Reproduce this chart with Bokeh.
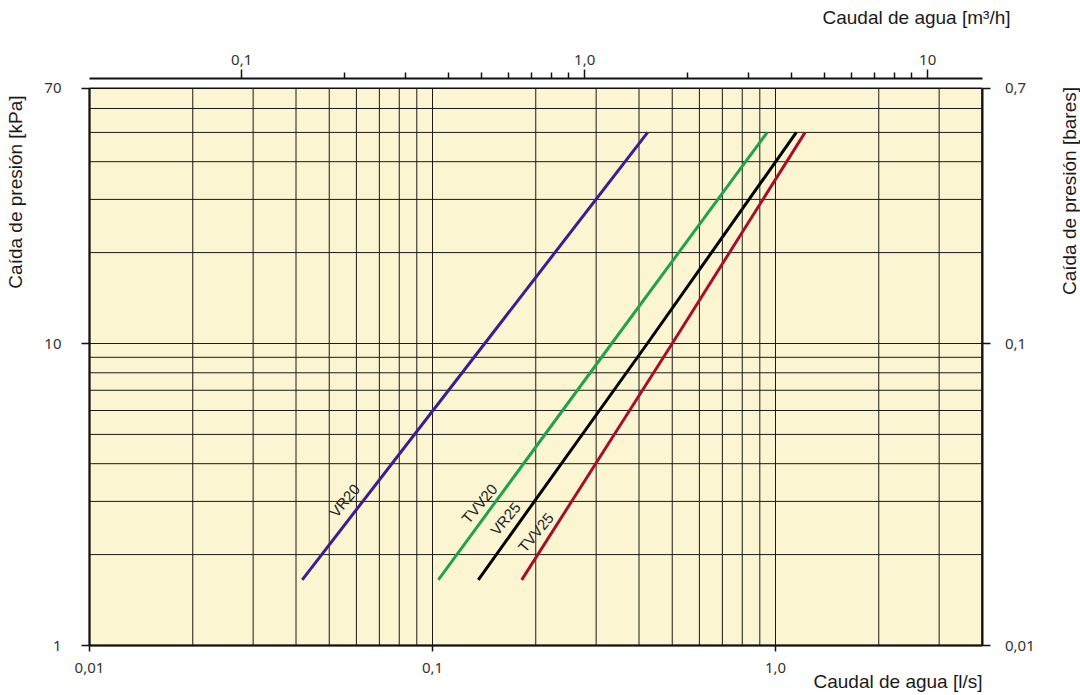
import math
from bokeh.plotting import figure
from bokeh.models import Range1d, LogAxis, LogScale, FixedTicker, Label, ColumnDataSource
from bokeh.core.properties import value
from bokeh.embed import file_html
from bokeh.resources import INLINE

# ---------------- data ----------------
series_names = ["VR20", "TVV20", "VR25", "TVV25"]
series_colors = ["#3b1e8f", "#22a24a", "#000000", "#a6102a"]
pressure_kpa = [1.65, 10, 50]
flow_vr20 = [0.0417, 0.142, 0.424]
flow_tvv20 = [0.104, 0.333, 0.946]
flow_vr25 = [0.136, 0.423, 1.15]
flow_tvv25 = [0.182, 0.500, 1.22]
series_flows = [flow_vr20, flow_tvv20, flow_vr25, flow_tvv25]

label_x = [0.0554, 0.137, 0.163, 0.200]
label_y = [3.02, 2.95, 2.63, 2.37]

x_bounds_ls = (0.01, 4.0)
y_bounds_kpa = (1, 70)

bottom_ticks = [0.01, 0.1, 1]
bottom_labels = ["0,01", "0,1", "1,0"]
top_ticks = [0.1, 1, 10]
top_labels = ["0,1", "1,0", "10"]
top_minor = [0.2, 0.3, 0.4, 0.5, 0.6, 0.7, 0.8, 0.9, 2, 3, 4, 5, 6, 7, 8, 9]
left_ticks = [1, 10, 70]
left_labels = ["1", "10", "70"]
right_ticks = [0.01, 0.1, 0.7]
right_labels = ["0,01", "0,1", "0,7"]

grid_x = [0.02, 0.03, 0.04, 0.05, 0.06, 0.07, 0.08, 0.09, 0.1,
          0.2, 0.3, 0.4, 0.5, 0.6, 0.7, 0.8, 0.9, 1, 2, 3]
grid_y = [2, 3, 4, 5, 6, 7, 8, 9, 10, 20, 30, 40, 50, 60]

LS_TO_M3H = 3.6
KPA_TO_BAR = 0.01

# ---------------- layout geometry (pixels) ----------------
W, H = 1080, 695
X0_PX, X_DEC_PX = 89, 343      # pixel of x=0.01, pixels per decade
Y0_PX, Y_DEC_PX = 645, 302     # pixel of y=1, pixels per decade
TOP_AXIS_PX = 78               # top axis line (separated from chart area)

def px_to_x(px):
    return 10 ** (math.log10(x_bounds_ls[0]) + (px - X0_PX) / X_DEC_PX)

def px_to_y(py):
    return 10 ** ((Y0_PX - py) / Y_DEC_PX)

x_rng = (px_to_x(0), px_to_x(W))
y_rng = (px_to_y(H), px_to_y(0))
top_axis_y = px_to_y(TOP_AXIS_PX)

TICK_FONT = "Noto Sans"
TITLE_FONT = "Liberation Sans"

p = figure(width=W, height=H, x_axis_type="log", y_axis_type="log",
           x_range=Range1d(*x_rng), y_range=Range1d(*y_rng),
           output_backend="svg", toolbar_location=None,
           min_border=0, min_border_left=0, min_border_right=0,
           min_border_top=0, min_border_bottom=0)
p.title.text = ""
p.title.visible = False
p.outline_line_color = None
p.background_fill_color = "white"
p.border_fill_color = "white"
p.xgrid.visible = False
p.ygrid.visible = False

# yellow chart area
p.quad(left=[x_bounds_ls[0]], right=[x_bounds_ls[1]], bottom=[y_bounds_kpa[0]], top=[y_bounds_kpa[1]],
       fill_color="#fbf5d2", line_color="#111111", line_width=1.5)

# grid lines
p.segment(x0=grid_x, y0=[y_bounds_kpa[0]] * len(grid_x), x1=grid_x, y1=[y_bounds_kpa[1]] * len(grid_x),
          line_color="#1a1a1a", line_width=1)
p.segment(x0=[x_bounds_ls[0]] * len(grid_y), y0=grid_y, x1=[x_bounds_ls[1]] * len(grid_y), y1=grid_y,
          line_color="#1a1a1a", line_width=1)

# curves
for name, flows, color in zip(series_names, series_flows, series_colors):
    p.line(x=flows, y=pressure_kpa, line_color=color, line_width=3)

src = ColumnDataSource(dict(x=label_x, y=label_y, t=series_names))
p.text(x="x", y="y", text="t", source=src, angle=50, angle_units="deg",
       text_align="center", text_baseline="middle", text_font=value(TITLE_FONT),
       text_font_size="15px", text_color="#222222")

def style_axis(ax, ticks, labels, standoff, tick_out):
    ax.ticker = FixedTicker(ticks=ticks, minor_ticks=[])
    ax.major_label_overrides = {t: l for t, l in zip(ticks, labels)}
    ax.major_label_text_font = TICK_FONT
    ax.major_label_text_font_size = "15px"
    ax.major_label_text_color = "#333333"
    ax.major_label_standoff = standoff
    ax.major_tick_out = tick_out
    ax.major_tick_in = 0
    ax.minor_tick_out = 0
    ax.minor_tick_in = 0
    ax.axis_line_width = 2
    ax.major_tick_line_width = 1.5
    ax.axis_line_color = "#111111"
    ax.major_tick_line_color = "#111111"

# bottom axis (l/s)
xax = p.xaxis[0]
style_axis(xax, bottom_ticks, bottom_labels, 11, 6)
xax.bounds = x_bounds_ls
xax.fixed_location = y_bounds_kpa[0]

# left axis (kPa)
yax = p.yaxis[0]
style_axis(yax, left_ticks, left_labels, 20, 8)
yax.bounds = y_bounds_kpa
yax.fixed_location = x_bounds_ls[0]

# right axis (bares)
p.extra_y_ranges = {"bar": Range1d(y_rng[0] * KPA_TO_BAR, y_rng[1] * KPA_TO_BAR)}
p.extra_y_scales = {"bar": LogScale()}
rax = LogAxis(y_range_name="bar")
style_axis(rax, right_ticks, right_labels, 15, 8)
rax.bounds = (y_bounds_kpa[0] * KPA_TO_BAR, y_bounds_kpa[1] * KPA_TO_BAR)
rax.fixed_location = x_bounds_ls[1]
p.add_layout(rax, "right")

# top axis (m3/h)
p.extra_x_ranges = {"m3h": Range1d(x_rng[0] * LS_TO_M3H, x_rng[1] * LS_TO_M3H)}
p.extra_x_scales = {"m3h": LogScale()}
tax = LogAxis(x_range_name="m3h")
style_axis(tax, top_ticks, top_labels, 5, 9)
tax.ticker = FixedTicker(ticks=top_ticks, minor_ticks=top_minor)
tax.minor_tick_out = 6
tax.minor_tick_line_width = 1.5
tax.minor_tick_line_color = "#111111"
tax.bounds = (x_bounds_ls[0] * LS_TO_M3H, x_bounds_ls[1] * LS_TO_M3H)
tax.fixed_location = top_axis_y
p.add_layout(tax, "above")

# axis titles
def title(text, px, py, angle=0, align="center"):
    p.add_layout(Label(x=px_to_x(px), y=px_to_y(py), text=text, angle=angle, angle_units="deg",
                       text_align=align, text_baseline="middle",
                       text_font=TITLE_FONT, text_font_size="19px", text_color="#1a1a1a"))

title("Caída de presión [kPa]", 15, 191.5, angle=90)
title("Caída de presión [bares]", 1069, 190.5, angle=90)
title("Caudal de agua [l/s]", 982, 681, align="right")
title("Caudal de agua [m³/h]", 1010, 17, align="right")

open("out.html", "w").write(file_html(p, INLINE))
